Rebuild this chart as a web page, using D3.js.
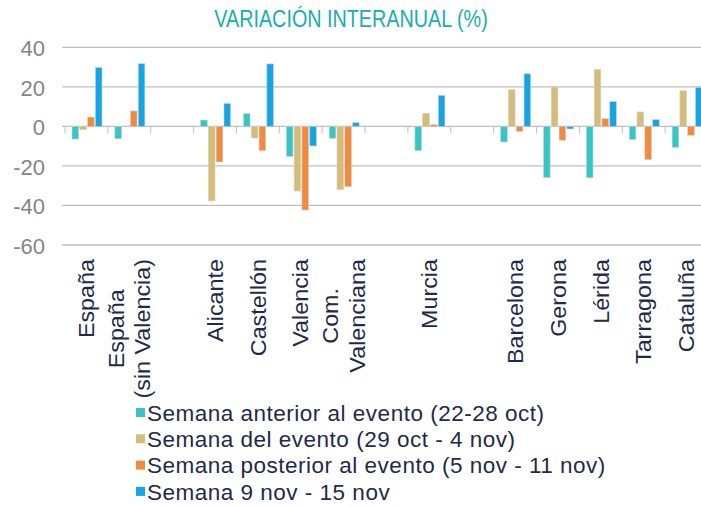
<!DOCTYPE html>
<html>
<head>
<meta charset="utf-8">
<script src="https://d3js.org/d3.v7.min.js"></script>
<style>
  body { margin: 0; background: #fff; }
  text { font-family: "Liberation Sans", Arial, sans-serif; }
</style>
</head>
<body>
<svg width="701" height="506"></svg>
<script>
// slots, null = empty gap between groups
var categories = ["España", "España\n(sin Valencia)", null, "Alicante", "Castellón", "Valencia",
  "Com.\nValenciana", null, "Murcia", null, "Barcelona", "Gerona", "Lérida", "Tarragona", "Cataluña"];

var seriesNames = ["Semana anterior al evento (22-28 oct)", "Semana del evento (29 oct - 4 nov)",
  "Semana posterior al evento (5 nov - 11 nov)", "Semana 9 nov - 15 nov"];

var anterior  = [-6.4, -6.3, null, 3.2, 6.4, -15.2, -6, null, -12.3, null, -7.9, -25.9, -26, -6.6, -10.6];
var evento    = [-1.7, 0, null, -37.7, -5.9, -32.7, -32, null, 6.6, null, 18.5, 19.9, 28.8, 7.3, 18];
var posterior = [4.7, 7.8, null, -18, -12.3, -42.3, -30.5, null, 0.8, null, -2.5, -7, 3.9, -16.8, -4.5];
var semana9   = [29.8, 31.7, null, 11.6, 31.6, -9.9, 1.9, null, 15.7, null, 26.6, -1.3, 12.5, 3.4, 19.7];

var yTicks = [40, 20, 0, -20, -40, -60];
var colors = ["#36c6c6", "#d6bd76", "#f28a3c", "#14a6e4"];

var allSeries = [anterior, evento, posterior, semana9];

var svg = d3.select("svg");

var x0 = d3.scaleBand()
  .domain(d3.range(categories.length))
  .range([65, 708])
  .padding(0);

var x1 = d3.scaleBand()
  .domain(d3.range(seriesNames.length))
  .range([7, 37])
  .paddingInner(0.15);

var y = d3.scaleLinear().domain([-60, 40]).range([245, 47.3]);

// title (narrow + tall like the original)
svg.append("text")
  .attr("transform", "translate(351,27) scale(0.86,1)")
  .attr("text-anchor", "middle")
  .attr("fill", "#17aeab")
  .style("font-size", "23px")
  .text("VARIACIÓN INTERANUAL (%)");

// gridlines
svg.append("g").selectAll("line")
  .data(yTicks)
  .join("line")
  .attr("x1", 62).attr("x2", 701)
  .attr("y1", function(d) { return y(d); })
  .attr("y2", function(d) { return y(d); })
  .attr("stroke", "#bfbfbf")
  .attr("stroke-width", 1.3);

// y labels
svg.append("g").selectAll("text")
  .data(yTicks)
  .join("text")
  .attr("x", 45)
  .attr("y", function(d) { return y(d); })
  .attr("dy", "0.4em")
  .attr("text-anchor", "end")
  .attr("fill", "#858585")
  .style("font-size", "22px")
  .text(function(d) { return d; });

// category ticks
svg.append("g").selectAll("line")
  .data(d3.range(categories.length + 1))
  .join("line")
  .attr("x1", function(i) { return i < categories.length ? x0(i) : x0(i - 1) + x0.bandwidth(); })
  .attr("x2", function(i) { return i < categories.length ? x0(i) : x0(i - 1) + x0.bandwidth(); })
  .attr("y1", y(0))
  .attr("y2", y(0) + 7)
  .attr("stroke", "#bfbfbf")
  .attr("stroke-width", 1);

// bars
var groups = svg.append("g").selectAll("g")
  .data(categories.map(function(c, i) { return i; }).filter(function(i) { return categories[i] !== null; }))
  .join("g")
  .attr("transform", function(i) { return "translate(" + x0(i) + ",0)"; });

groups.selectAll("rect")
  .data(function(i) { return allSeries.map(function(s, k) { return { k: k, v: s[i] }; }); })
  .join("rect")
  .attr("x", function(d) { return x1(d.k); })
  .attr("width", x1.bandwidth())
  .attr("y", function(d) { return y(Math.max(0, d.v)); })
  .attr("height", function(d) { return Math.abs(y(d.v) - y(0)); })
  .attr("fill", function(d) { return colors[d.k]; })
  .attr("stroke", "#d0d0d0")
  .attr("stroke-width", 0.6);

// x labels, rotated
var labelTop = 259;
categories.forEach(function(c, i) {
  if (c === null) return;
  var lines = c.split("\n");
  var cx = x0(i) + x0.bandwidth() / 2;
  var t = svg.append("text")
    .attr("text-anchor", "middle")
    .attr("fill", "#1f2b47")
    .style("font-size", "22px");
  lines.forEach(function(l, j) {
    t.append("tspan")
      .attr("x", 0)
      .attr("dy", j === 0 ? (0.35 - (lines.length - 1) * 0.6) + "em" : "1.2em")
      .text(l);
  });
  var maxLen = d3.max(t.selectAll("tspan").nodes(), function(n) { return n.getComputedTextLength(); }) * 1.06;
  t.attr("transform", "translate(" + cx + "," + (labelTop + maxLen / 2) + ") rotate(-90) scale(1.06,1)");
});

// legend
var legend = svg.append("g").selectAll("g")
  .data(seriesNames)
  .join("g")
  .attr("transform", function(d, i) { return "translate(136," + (412.5 + i * 26.3) + ")"; });

legend.append("rect")
  .attr("x", 0).attr("y", -4.5)
  .attr("width", 9).attr("height", 9)
  .attr("fill", function(d, i) { return colors[i]; });

legend.append("text")
  .attr("x", 11)
  .attr("dy", "0.36em")
  .attr("fill", "#1f2b47")
  .style("font-size", "22.5px")
  .style("letter-spacing", "0.5px")
  .text(function(d) { return d; });
</script>
</body>
</html>
